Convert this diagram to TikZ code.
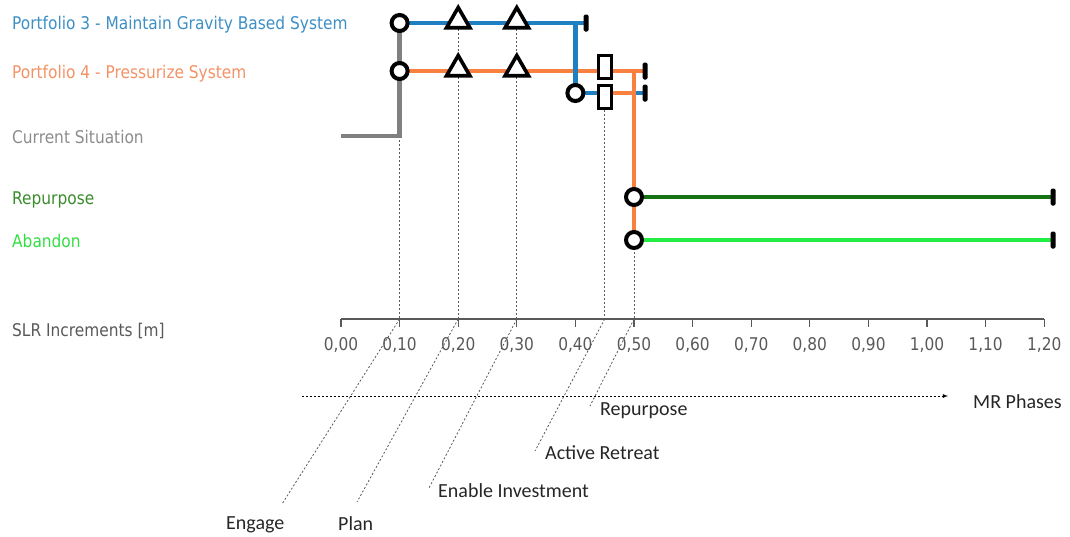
\documentclass[tikz,border=0pt]{standalone}
\usepackage{fontspec}
\usepackage{tikz}
\usetikzlibrary{shapes}
\usetikzlibrary{positioning}
\usetikzlibrary{arrows}
\usetikzlibrary{math}
\newfontfamily\tahoma{DejaVu Sans}[FakeStretch=0.88]
\newfontfamily\calib{Carlito}
\definecolor{p3line}{HTML}{1E80C1}
\definecolor{p3text}{HTML}{3D8FC5}
\definecolor{p4line}{HTML}{FA8040}
\definecolor{p4text}{HTML}{F39265}
\definecolor{csline}{HTML}{808080}
\definecolor{cstext}{HTML}{8C8C8C}
\definecolor{rpline}{HTML}{157315}
\definecolor{rptext}{HTML}{3A8C2C}
\definecolor{abline}{HTML}{22EE44}
\definecolor{abtext}{HTML}{33DD44}
\definecolor{axisgray}{HTML}{595959}
\pgfdeclarelayer{background}
\pgfsetlayers{background,main}

\begin{document}
\begin{tikzpicture}[x=1pt,y=-1pt,
    route/.style={line width=4.6pt},
    guide/.style={axisgray, line width=0.8pt, dash pattern=on 2pt off 2pt},
    stop/.style={circle, draw=black, line width=4pt, fill=white, inner sep=0pt, minimum size=16pt},
    tri/.style={regular polygon, regular polygon sides=3, draw=black, line width=3.6pt, fill=white, inner sep=0pt, minimum size=27pt},
    slot/.style={rectangle, draw=black, line width=3pt, fill=white, inner sep=0pt, minimum width=13pt, minimum height=23pt},
    endbar/.style={rectangle, fill=black, rounded corners=1.5pt, inner sep=0pt, minimum width=5pt, minimum height=17pt},
    lbl/.style={font=\tahoma\fontsize{17.5}{20}\selectfont, anchor=base west, inner sep=0pt},
    phase/.style={font=\calib\fontsize{20}{24}\selectfont, anchor=base west, inner sep=0pt}]
      \tikzmath{
        \xo = 341;
        \dx = 58.6;
      }
      \useasboundingbox (0,0) rectangle (1070,536);

      % row labels
      \node[lbl, text=p3text] (lp3) at (12,29.5) {Portfolio 3 - Maintain Gravity Based System};
      \node[lbl, text=p4text] (lp4) at (12,78.5) {Portfolio 4 - Pressurize System};
      \node[lbl, text=cstext] (lcs) at (12,143) {Current Situation};
      \node[lbl, text=rptext] (lrp) at (12,204) {Repurpose};
      \node[lbl, text=abtext] (lab) at (12,247) {Abandon};
      \node[lbl, text=axisgray] (lslr) at (12,336.5) {SLR Increments [m]};

      % axis
      \foreach \i in {0,...,12} {
        \coordinate (tick\i) at ({\xo+\i*\dx},319);
        \draw[axisgray, line width=1.3pt] (tick\i) -- ++(0,8);
        \pgfmathsetmacro{\v}{\i/10}
        \node[font=\tahoma\fontsize{17.5}{20}\selectfont, text=axisgray, anchor=base, inner sep=0pt] (tl\i) at ({\xo+\i*\dx},350)
          {\pgfmathprintnumber[fixed,fixed zerofill,precision=2,use comma,assume math mode=true]{\v}};
      }
      \draw[axisgray, line width=1.3pt] (tick0) -- (tick12);
      \coordinate (tick45) at ({\xo+4.5*\dx},319);

      % portfolio 3
      \node[stop] (p3a) at ({\xo+\dx},23) {};
      \node[tri] (p3b) at ({\xo+2*\dx},21) {};
      \node[tri] (p3c) at ({\xo+3*\dx},21) {};
      \node[endbar] (p3end) at (586,23) {};
      \coordinate (p3turn) at ({\xo+4*\dx},23);
      \node[stop] (p3d) at ({\xo+4*\dx},93) {};
      \node[slot] (p3e) at ({\xo+4.5*\dx},97) {};
      \node[endbar] (p3f) at (645,93) {};

      % portfolio 4
      \node[stop] (p4a) at ({\xo+\dx},71) {};
      \node[tri] (p4b) at ({\xo+2*\dx},69) {};
      \node[tri] (p4c) at ({\xo+3*\dx},69) {};
      \node[slot] (p4d) at ({\xo+4.5*\dx},67) {};
      \node[endbar] (p4end) at (645,71) {};
      \coordinate (p4turn) at ({\xo+5*\dx},71);

      % current situation
      \coordinate (cs0) at (341,136);
      \coordinate (cs1) at ({\xo+\dx},136);

      % repurpose and abandon
      \node[stop] (rp) at ({\xo+5*\dx},197) {};
      \node[endbar] (rpend) at (1053,197) {};
      \node[stop] (ab) at ({\xo+5*\dx},240) {};
      \node[endbar] (abend) at (1053,240) {};

      % phases
      \node[phase, text=black!85] (mr) at (973,408) {MR Phases};
      \node[phase, text=black!85] (engage) at (226,529) {Engage};
      \node[phase, text=black!85] (plan) at (338,530) {Plan};
      \node[phase, text=black!85] (enable) at (438,497) {Enable Investment};
      \node[phase, text=black!85] (active) at (545,459) {Active Retreat};
      \node[phase, text=black!85] (repur) at (600,415) {Repurpose};
      \coordinate (engfoot) at (282,504);
      \coordinate (planfoot) at (357,502);
      \coordinate (enafoot) at (429,488);
      \coordinate (actfoot) at (535,451);
      \coordinate (repfoot) at (590,406);
      \coordinate (mrstart) at (302,396);
      \coordinate (mrtip) at (948,396);

      \begin{pgfonlayer}{background}
        \draw[guide] (cs1) -- (tick1);
        \draw[guide] (p3b.center) -- (tick2);
        \draw[guide] (p3c.center) -- (tick3);
        \draw[guide] (p3e.south) -- (tick45);
        \draw[guide] (ab.center) -- (tick5);
        \draw[guide] (tick1) -- (engfoot);
        \draw[guide] (tick2) -- (planfoot);
        \draw[guide] (tick3) -- (enafoot);
        \draw[guide] (tick45) -- (actfoot);
        \draw[guide] (tick5) -- (repfoot);
        \draw[guide, -latex, black] (mrstart) -- (mrtip);

        \draw[route, csline] (cs0) -- (cs1) -- (p3a.center);
        \draw[route, p4line] (p4a.center) -- (p4end.center);
        \draw[route, p3line] (p3a.center) -- (p3end.center);
        \draw[route, p3line] (p3turn) -- (p3d.center) -- (p3f.center);
        \draw[route, p4line] (p3e.east |- p3d) -- (p4turn |- p3d);
        \draw[route, p4line] (p4turn) -- (ab.center);
        \draw[route, rpline] (rp.center) -- (rpend.center);
        \draw[route, abline] (ab.center) -- (abend.center);
      \end{pgfonlayer}
    \end{tikzpicture}
\end{document}
